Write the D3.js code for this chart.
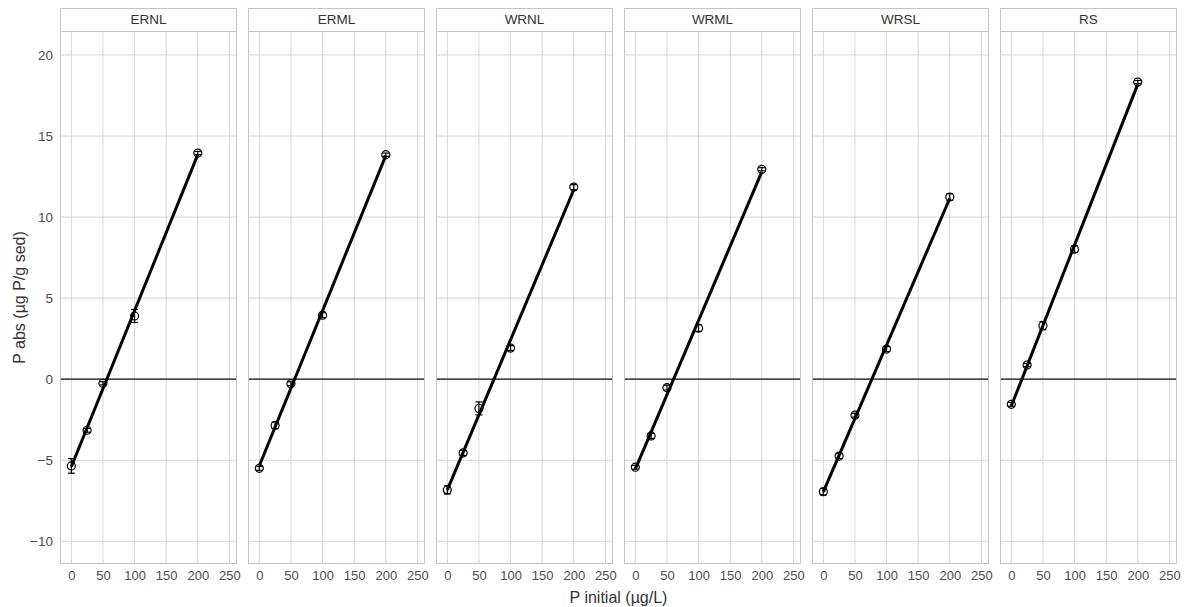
<!DOCTYPE html>
<html>
<head>
<meta charset="utf-8">
<script src="https://cdn.jsdelivr.net/npm/d3@7"></script>
<style>
  html, body { margin: 0; padding: 0; background: #fff; }
  svg { display: block; font-family: "Liberation Sans", Arial, sans-serif; }
</style>
</head>
<body>
<svg id="chart" width="1185" height="607"></svg>
<script>
// Sediment sites, one facet each
const sites = ["ERNL", "ERML", "WRNL", "WRML", "WRSL", "RS"];
// Initial P concentrations (µg/L)
const pInitial = [0, 25, 50, 100, 200];
// Mean P absorbed (µg P / g sediment), per site
const pAbsERNL = [-5.35, -3.15, -0.25, 3.9, 13.95];
const pAbsERML = [-5.5, -2.85, -0.28, 3.95, 13.85];
const pAbsWRNL = [-6.83, -4.55, -1.8, 1.92, 11.85];
const pAbsWRML = [-5.43, -3.5, -0.52, 3.15, 12.95];
const pAbsWRSL = [-6.94, -4.74, -2.22, 1.86, 11.24];
const pAbsRS   = [-1.55, 0.87, 3.3, 8.02, 18.33];
// Standard errors
const seERNL = [0.45, 0.12, 0.1, 0.4, 0.1];
const seERML = [0.12, 0.2, 0.12, 0.15, 0.1];
const seWRNL = [0.25, 0.15, 0.4, 0.15, 0.15];
const seWRML = [0.12, 0.15, 0.15, 0.2, 0.1];
const seWRSL = [0.2, 0.15, 0.12, 0.15, 0.2];
const seRS   = [0.12, 0.1, 0.25, 0.2, 0.1];
// Axis ticks
const xTicks = [0, 50, 100, 150, 200, 250];
const yTicks = [-10, -5, 0, 5, 10, 15, 20];

const means = [pAbsERNL, pAbsERML, pAbsWRNL, pAbsWRML, pAbsWRSL, pAbsRS];
const errs = [seERNL, seERML, seWRNL, seWRML, seWRSL, seRS];

const svg = d3.select("#chart");

const panelLeft = 60, panelW = 177, panelGap = 11;
const stripTop = 8, stripH = 23;
const plotTop = stripTop + stripH, plotBottom = 564;

const x = d3.scaleLinear().domain([-17.9, 262]).range([0, panelW]);
const y = d3.scaleLinear().domain([-11.4, 21.48]).range([plotBottom, plotTop]);

const gridCol = "#d6d6d6";
const borderCol = "#c4c4c4";
const font = "Liberation Sans, Arial, sans-serif";

// Least-squares line through the points of a panel
function fit(xs, ys) {
  const mx = d3.mean(xs), my = d3.mean(ys);
  let sxy = 0, sxx = 0;
  xs.forEach((v, i) => { sxy += (v - mx) * (ys[i] - my); sxx += (v - mx) * (v - mx); });
  const b = sxy / sxx;
  return { a: my - b * mx, b };
}

sites.forEach((site, i) => {
  const g = svg.append("g")
    .attr("transform", `translate(${panelLeft + i * (panelW + panelGap)},0)`);

  // grid
  g.selectAll(".gx").data(xTicks).join("line")
    .attr("x1", d => x(d)).attr("x2", d => x(d))
    .attr("y1", plotTop).attr("y2", plotBottom)
    .attr("stroke", gridCol).attr("stroke-width", 1);
  g.selectAll(".gy").data(yTicks).join("line")
    .attr("x1", 0).attr("x2", panelW)
    .attr("y1", d => y(d)).attr("y2", d => y(d))
    .attr("stroke", gridCol).attr("stroke-width", 1);

  // zero reference line
  g.append("line")
    .attr("x1", 0).attr("x2", panelW)
    .attr("y1", y(0)).attr("y2", y(0))
    .attr("stroke", "#111").attr("stroke-width", 1.3);

  // panel border
  g.append("rect")
    .attr("x", 0.5).attr("y", plotTop + 0.5)
    .attr("width", panelW - 1).attr("height", plotBottom - plotTop - 1)
    .attr("fill", "none").attr("stroke", borderCol);

  // strip
  g.append("rect")
    .attr("x", 0.5).attr("y", stripTop + 0.5)
    .attr("width", panelW - 1).attr("height", stripH)
    .attr("fill", "#fff").attr("stroke", borderCol);
  g.append("text")
    .attr("x", panelW / 2).attr("y", stripTop + stripH / 2 + 1)
    .attr("text-anchor", "middle").attr("dominant-baseline", "middle")
    .attr("font-size", 13.5).attr("fill", "#333")
    .text(site);

  // regression line
  const ys = means[i];
  const f = fit(pInitial, ys);
  const x0 = d3.min(pInitial), x1 = d3.max(pInitial);
  g.append("line")
    .attr("x1", x(x0)).attr("y1", y(f.a + f.b * x0))
    .attr("x2", x(x1)).attr("y2", y(f.a + f.b * x1))
    .attr("stroke", "#000").attr("stroke-width", 3);

  // error bars and points
  const pts = pInitial.map((v, k) => ({ x: v, y: ys[k], e: errs[i][k] }));
  const eb = g.selectAll(".eb").data(pts).join("g");
  eb.append("line")
    .attr("x1", d => x(d.x)).attr("x2", d => x(d.x))
    .attr("y1", d => y(d.y - d.e)).attr("y2", d => y(d.y + d.e))
    .attr("stroke", "#000").attr("stroke-width", 1.2);
  eb.append("line")
    .attr("x1", d => x(d.x) - 3.5).attr("x2", d => x(d.x) + 3.5)
    .attr("y1", d => y(d.y - d.e)).attr("y2", d => y(d.y - d.e))
    .attr("stroke", "#000").attr("stroke-width", 1.2);
  eb.append("line")
    .attr("x1", d => x(d.x) - 3.5).attr("x2", d => x(d.x) + 3.5)
    .attr("y1", d => y(d.y + d.e)).attr("y2", d => y(d.y + d.e))
    .attr("stroke", "#000").attr("stroke-width", 1.2);
  g.selectAll(".pt").data(pts).join("circle")
    .attr("cx", d => x(d.x)).attr("cy", d => y(d.y))
    .attr("r", 4).attr("fill", "none")
    .attr("stroke", "#000").attr("stroke-width", 1.2);

  // x axis tick labels
  const xa = g.append("g").attr("transform", `translate(0,${plotBottom})`)
    .call(d3.axisBottom(x).tickValues(xTicks).tickSize(0).tickPadding(7));
  xa.select(".domain").remove();
  xa.selectAll("text").attr("font-size", 13).attr("fill", "#4d4d4d")
    .attr("font-family", font);
});

// y axis tick labels
const ya = svg.append("g").attr("transform", `translate(${panelLeft},0)`)
  .call(d3.axisLeft(y).tickValues(yTicks).tickSize(0).tickPadding(7));
ya.select(".domain").remove();
ya.selectAll("text").attr("font-size", 13.5).attr("fill", "#4d4d4d")
  .attr("font-family", font);

// axis titles
const lastRight = panelLeft + sites.length * panelW + (sites.length - 1) * panelGap;
svg.append("text")
  .attr("x", (panelLeft + lastRight) / 2).attr("y", 603)
  .attr("text-anchor", "middle").attr("font-size", 16).attr("fill", "#333")
  .text("P initial (µg/L)");
svg.append("text")
  .attr("transform", `translate(25,${(plotTop + plotBottom) / 2}) rotate(-90)`)
  .attr("text-anchor", "middle").attr("font-size", 16).attr("fill", "#333")
  .text("P abs (µg P/g sed)");
</script>
</body>
</html>
